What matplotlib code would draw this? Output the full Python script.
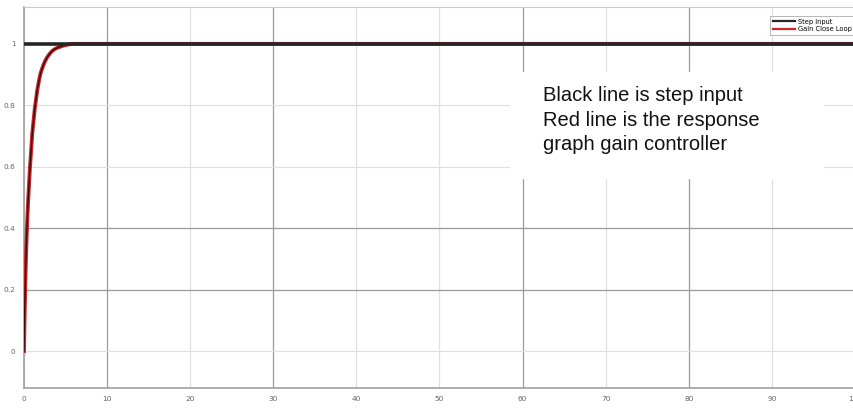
import matplotlib.pyplot as plt
import numpy as np

# step input
step_t = [0, 100]
step_y = [1, 1]

# closed loop response
resp_t = [0, 0.05, 0.1, 0.15, 0.2, 0.3, 0.4, 0.5, 0.6, 0.7, 0.8, 0.9, 1.0, 1.15, 1.3,
          1.45, 1.6, 1.8, 2.0, 2.25, 2.5, 2.8, 3.1, 3.4, 3.7, 4.0, 4.3, 4.7, 5.0, 5.5, 6.0, 100]
resp_y = [0, 0.08, 0.15, 0.21, 0.27, 0.36, 0.43, 0.49, 0.54, 0.59, 0.63, 0.67, 0.71, 0.75, 0.79,
          0.82, 0.85, 0.88, 0.905, 0.925, 0.942, 0.957, 0.968, 0.977, 0.983, 0.987, 0.99, 0.994, 0.996, 0.999, 1.0, 1.0]

xticks = [0, 10, 20, 30, 40, 50, 60, 70, 80, 90, 100]
yticks = [0, 0.2, 0.4, 0.6, 0.8, 1]
ytick_labels = ['0', '0.2', '0.4', '0.6', '0.8', '1']

note = 'Black line is step input\nRed line is the response\ngraph gain controller'

fig = plt.figure(figsize=(8.54, 4.08), dpi=100)
ax = fig.add_axes([24/854, 1 - 388/408, 831/854, 381/408])

ax.plot(resp_t, resp_y, color='#c8282c', lw=2.8, label='Gain Close Loop', zorder=3,
        solid_joinstyle='round')
ax.plot(resp_t, resp_y, color='#3a0a0a', lw=1.0, zorder=4, solid_joinstyle='round')
ax.plot(step_t, step_y, color='#262626', lw=2.6, label='Step Input', zorder=5)

ax.set_xlim(0, 100)
ax.set_ylim(-0.12, 1.12)
ax.set_xticks(xticks)
ax.set_xticklabels([str(v) for v in xticks])
ax.set_yticks(yticks)
ax.set_yticklabels(ytick_labels)
ax.tick_params(labelsize=5.3, labelcolor='#666666', length=0, pad=6)

ax.grid(True, color='#e0e0e0', lw=0.9)
for v, line in zip(xticks, ax.get_xgridlines()):
    if v in (10, 30, 60, 80):
        line.set_color('#9a9a9a')
for v, line in zip(yticks, ax.get_ygridlines()):
    if v in (0.2, 0.4):
        line.set_color('#9a9a9a')
ax.set_axisbelow(True)

for side in ['left', 'bottom']:
    ax.spines[side].set_color('#a0a0a0')
    ax.spines[side].set_linewidth(1.2)
for side in ['top', 'right']:
    ax.spines[side].set_color('#cccccc')

handles, labels = ax.get_legend_handles_labels()
leg = ax.legend(handles[::-1], labels[::-1], loc='upper left',
                bbox_to_anchor=(767/854, 1 - 13/408),
                bbox_transform=fig.transFigure, fontsize=4.8, frameon=True,
                fancybox=False, handlelength=3.3, borderpad=0.35, labelspacing=0.25,
                handletextpad=0.5)
leg.get_frame().set_edgecolor('#999999')
leg.get_frame().set_linewidth(0.6)
for h in leg.get_lines():
    h.set_linewidth(1.6)

fig.patches.append(plt.Rectangle((510/854, 1 - 178/408), 313/854, 106/408,
                                 transform=fig.transFigure, color='white', zorder=6))
fig.text(543/854, 1 - 86/408, note, fontsize=14.5, family='Liberation Sans',
         va='top', ha='left', linespacing=1.38, color='#111111', zorder=7)

plt.savefig('out.png', dpi=100)
